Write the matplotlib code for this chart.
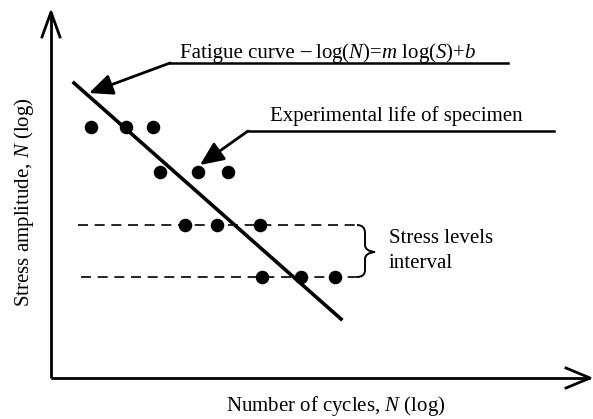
import matplotlib
matplotlib.use("Agg")
import matplotlib.pyplot as plt
from matplotlib.path import Path
from matplotlib.patches import PathPatch, FancyArrowPatch
from matplotlib.offsetbox import TextArea, HPacker, AnchoredOffsetbox

plt.rcParams['font.family'] = ['Liberation Serif', 'DejaVu Serif']
plt.rcParams['mathtext.fontset'] = 'custom'
plt.rcParams['mathtext.rm'] = 'Liberation Serif'
plt.rcParams['mathtext.it'] = 'Liberation Serif:italic'

# schematic data (in drawing units)
dot_x = [91, 126, 153, 160, 198, 228, 185, 217, 260, 262, 301, 335]
dot_y = [127, 127, 127, 172, 172, 172, 225, 225, 225, 277, 277, 277]
fit_x = [74, 341]
fit_y = [83, 319]
level_y = [225, 277]
level_x0 = [78, 81]
level_x1 = 357

fig = plt.figure(figsize=(5.93, 4.19), dpi=100)
ax = fig.add_axes([0, 0, 1, 1])
ax.set_xlim(0, 593)
ax.set_ylim(419, 0)
ax.axis('off')

# axes with open arrowheads
ax.plot([51, 51], [378, 12], color='black', lw=2, solid_capstyle='butt')
ax.plot([42, 51, 60], [37, 12, 37], color='black', lw=2)
ax.plot([51, 590], [378, 378], color='black', lw=2, solid_capstyle='butt')
ax.plot([566, 590, 566], [368, 378, 388], color='black', lw=2)

# fatigue curve
ax.plot(fit_x, fit_y, color='black', lw=2.6)

# stress level dashed lines
for y, x0 in zip(level_y, level_x0):
    ax.plot([x0, level_x1], [y, y], color='black', lw=1.2, dashes=(6, 4))

# brace
verts = [(357, 225), (365, 225), (365, 233),
         (365, 245), (365, 251), (375, 252),
         (365, 253), (365, 259),
         (365, 270), (365, 277), (357, 277)]
codes = [Path.MOVETO, Path.CURVE3, Path.CURVE3,
         Path.LINETO, Path.CURVE3, Path.CURVE3,
         Path.CURVE3, Path.CURVE3,
         Path.LINETO, Path.CURVE3, Path.CURVE3]
ax.add_patch(PathPatch(Path(verts, codes), fill=False, lw=1.4, color='black'))

# points
ax.scatter(dot_x, dot_y, s=95, color='black', zorder=3, linewidths=0)

# annotations
astyle = '-|>,head_length=0.9,head_width=0.4'
ax.plot([170, 508], [63, 63], color='black', lw=1.8)
ax.add_patch(FancyArrowPatch((170, 63), (89, 93), arrowstyle=astyle,
                             mutation_scale=16, color='black', lw=2, shrinkA=0, shrinkB=0))
fs = 15
t1 = ax.text(180, 58, 'Fatigue curve ', fontsize=fs, ha='left', va='baseline')
fig.canvas.draw()
r = fig.canvas.get_renderer()
inv = ax.transData.inverted()
bb = t1.get_window_extent(r)
x1 = inv.transform((bb.x1, 0))[0]
t2 = ax.text(x1, 58, '\u2013', fontsize=fs, fontweight='bold', ha='left', va='baseline')
bb2 = t2.get_window_extent(r)
x2 = inv.transform((bb2.x1, 0))[0]
ax.text(x2, 58, ' log($N$)=$m$ log($S$)+$b$', fontsize=fs, ha='left', va='baseline')

ax.plot([248, 554], [131, 131], color='black', lw=1.8)
ax.add_patch(FancyArrowPatch((248, 131), (200, 165), arrowstyle=astyle,
                             mutation_scale=16, color='black', lw=2, shrinkA=0, shrinkB=0))
ax.text(270, 121, 'Experimental life of specimen', fontsize=fs, ha='left', va='baseline')

ax.text(389, 243, 'Stress levels', fontsize=fs, ha='left', va='baseline')
ax.text(389, 268, 'interval', fontsize=fs, ha='left', va='baseline')

ax.text(336, 411, 'Number of cycles, $N$ (log)', fontsize=fs, ha='center', va='baseline')
ax.text(24, 202, 'Stress amplitude, $N$ (log)', fontsize=fs, ha='center', va='center',
        rotation=90)

fig.savefig('out.png', dpi=100)
